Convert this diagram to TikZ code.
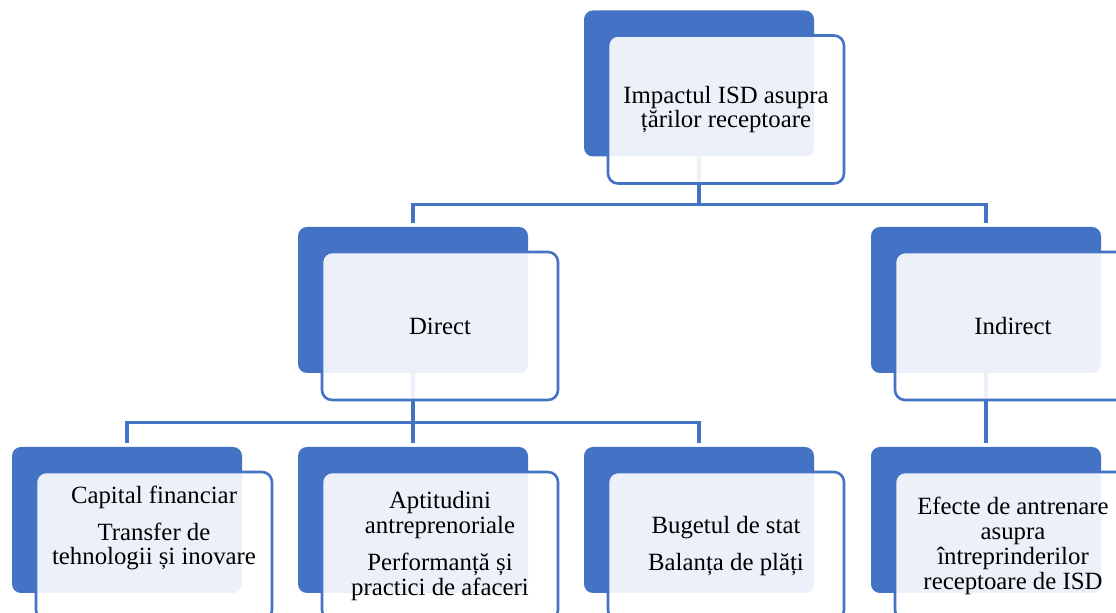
\documentclass[tikz,border=0pt]{standalone}
\usepackage{fontspec}
\setmainfont{Liberation Serif}
\usetikzlibrary{positioning}
\definecolor{isdblue}{HTML}{4472C4}

\begin{document}
\begin{tikzpicture}[x=0.5pt, y=-0.5pt,
        back/.style={fill=isdblue, rounded corners=4.5pt, minimum width=115pt, minimum height=73pt, inner sep=0pt},
        front/.style={draw=isdblue, line width=1.3pt, fill=white, fill opacity=0.9, text opacity=1, rounded corners=5pt,
            minimum width=118pt, minimum height=74pt, inner sep=0pt, align=center, font=\fontsize{12.4}{12.4}\selectfont},
        txt/.style={align=center, font=\fontsize{12.4}{12.4}\selectfont},
        link/.style={draw=isdblue, line width=1.6pt, shorten >=2pt}]
        \path[use as bounding box] (0,0) rectangle (1116,613);
        \clip (0,0) rectangle (1116,613);

        % back boxes
        \node[back] (imp) at (699, 83.5) {};
        \node[back] (dir) at (413, 300) {};
        \node[back] (ind) at (986, 300) {};
        \node[back] (cap) at (127, 520) {};
        \node[back] (apt) at (413, 520) {};
        \node[back] (bug) at (699, 520) {};
        \node[back] (efe) at (986, 520) {};

        % connectors
        \draw[link] (imp.south) -- ++(0,48) -| (dir.north);
        \draw[link] (imp.south) -- ++(0,48) -| (ind.north);
        \draw[link] (dir.south) -- ++(0,49) -| (cap.north);
        \draw[link] (dir.south) -- (apt.north);
        \draw[link] (dir.south) -- ++(0,49) -| (bug.north);
        \draw[link] (ind.south) -- (efe.north);

        % front boxes
        \node[front] (impF) at ([xshift=13.5pt, yshift=-13pt]imp.center) {Impactul ISD asupra\\țărilor receptoare};
        \node[front] (dirF) at ([xshift=13.5pt, yshift=-13pt]dir.center) {Direct};
        \node[front] (indF) at ([xshift=13.5pt, yshift=-13pt]ind.center) {Indirect};
        \node[front] (capF) at ([xshift=13.5pt, yshift=-13pt]cap.center) {};
        \node[txt] (capT) at ([yshift=9pt]capF.center) {Capital financiar\\[6pt]Transfer de\\tehnologii și inovare};
        \node[front] (aptF) at ([xshift=13.5pt, yshift=-13pt]apt.center) {Aptitudini\\antreprenoriale\\[6pt]Performanță și\\practici de afaceri};
        \node[front] (bugF) at ([xshift=13.5pt, yshift=-13pt]bug.center) {Bugetul de stat\\[6pt]Balanța de plăți};
        \node[front] (efeF) at ([xshift=13.5pt, yshift=-13pt]efe.center) {Efecte de antrenare\\asupra\\întreprinderilor\\receptoare de ISD};
    \end{tikzpicture}
\end{document}
